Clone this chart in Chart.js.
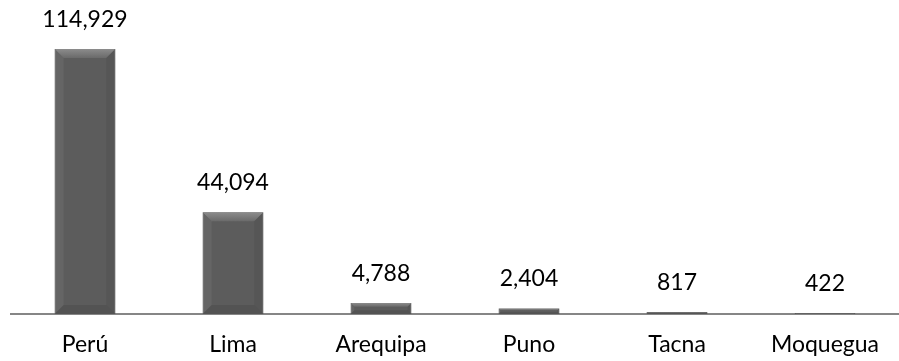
<!DOCTYPE html>
<html><head><meta charset="utf-8">
<script src="https://cdn.jsdelivr.net/npm/chart.js@4/dist/chart.umd.min.js"></script>
<style>html,body{margin:0;padding:0;background:#fff}#wrap{width:899px;height:361px}</style>
</head><body><div id="wrap"><canvas id="c"></canvas></div>
<script>
const categories = ["Perú","Lima","Arequipa","Puno","Tacna","Moquegua"];
const values = [114929,44094,4788,2404,817,422];

const FONT = "Lato, 'Open Sans', sans-serif";
const FSIZE = 23;

const bevelPlugin = {
  id:'bevel',
  afterDatasetsDraw(chart){
    const ctx = chart.ctx;
    const meta = chart.getDatasetMeta(0);
    ctx.save();
    meta.data.forEach((bar,i)=>{
      const {x,y,base,width} = bar.getProps(['x','y','base','width'],true);
      const l = x-width/2, r = x+width/2, h = base-y;
      const b = Math.min(9, h/3, width/4);
      if (h >= 1) {
        const g = ctx.createLinearGradient(0,y,0,y+b);
        g.addColorStop(0,'#8c8c8c'); g.addColorStop(1,'#6a6a6a');
        ctx.fillStyle = g;
        ctx.beginPath(); ctx.moveTo(l,y); ctx.lineTo(r,y); ctx.lineTo(r-b,y+b); ctx.lineTo(l+b,y+b); ctx.closePath(); ctx.fill();
        ctx.fillStyle = 'rgba(110,110,110,0.5)';
        ctx.beginPath(); ctx.moveTo(l,y); ctx.lineTo(l+b,y+b); ctx.lineTo(l+b,base-b); ctx.lineTo(l,base); ctx.closePath(); ctx.fill();
        ctx.fillStyle = 'rgba(80,80,80,0.5)';
        ctx.beginPath(); ctx.moveTo(r,y); ctx.lineTo(r-b,y+b); ctx.lineTo(r-b,base-b); ctx.lineTo(r,base); ctx.closePath(); ctx.fill();
        ctx.fillStyle = 'rgba(70,70,70,0.4)';
        ctx.beginPath(); ctx.moveTo(l,base); ctx.lineTo(l+b,base-b); ctx.lineTo(r-b,base-b); ctx.lineTo(r,base); ctx.closePath(); ctx.fill();
      }
      ctx.fillStyle = '#000';
      ctx.font = FSIZE + "px " + FONT;
      ctx.textAlign = 'center';
      ctx.textBaseline = 'alphabetic';
      ctx.fillText(values[i].toLocaleString('en-US'), x, y-22);
    });
    ctx.restore();
  }
};

new Chart(document.getElementById('c'), {
  type:'bar',
  data:{labels:categories, datasets:[{data:values, backgroundColor:'#5c5c5c', borderColor:'#505050', borderWidth:1, categoryPercentage:1, barPercentage:0.41}]},
  options:{
    responsive:true, maintainAspectRatio:false, animation:false,
    layout:{padding:{left:11,right:0,top:20,bottom:0}},
    plugins:{legend:{display:false}, tooltip:{enabled:false}},
    scales:{
      x:{grid:{display:false, drawTicks:false}, border:{display:true,color:'#868686',width:2},
         ticks:{color:'#000', font:{family:FONT,size:FSIZE}, padding:17, maxRotation:0},
         afterFit(scale){ scale.height = 47; }},
      y:{display:false, min:0, max:127500}
    }
  },
  plugins:[bevelPlugin]
});
</script></body></html>
